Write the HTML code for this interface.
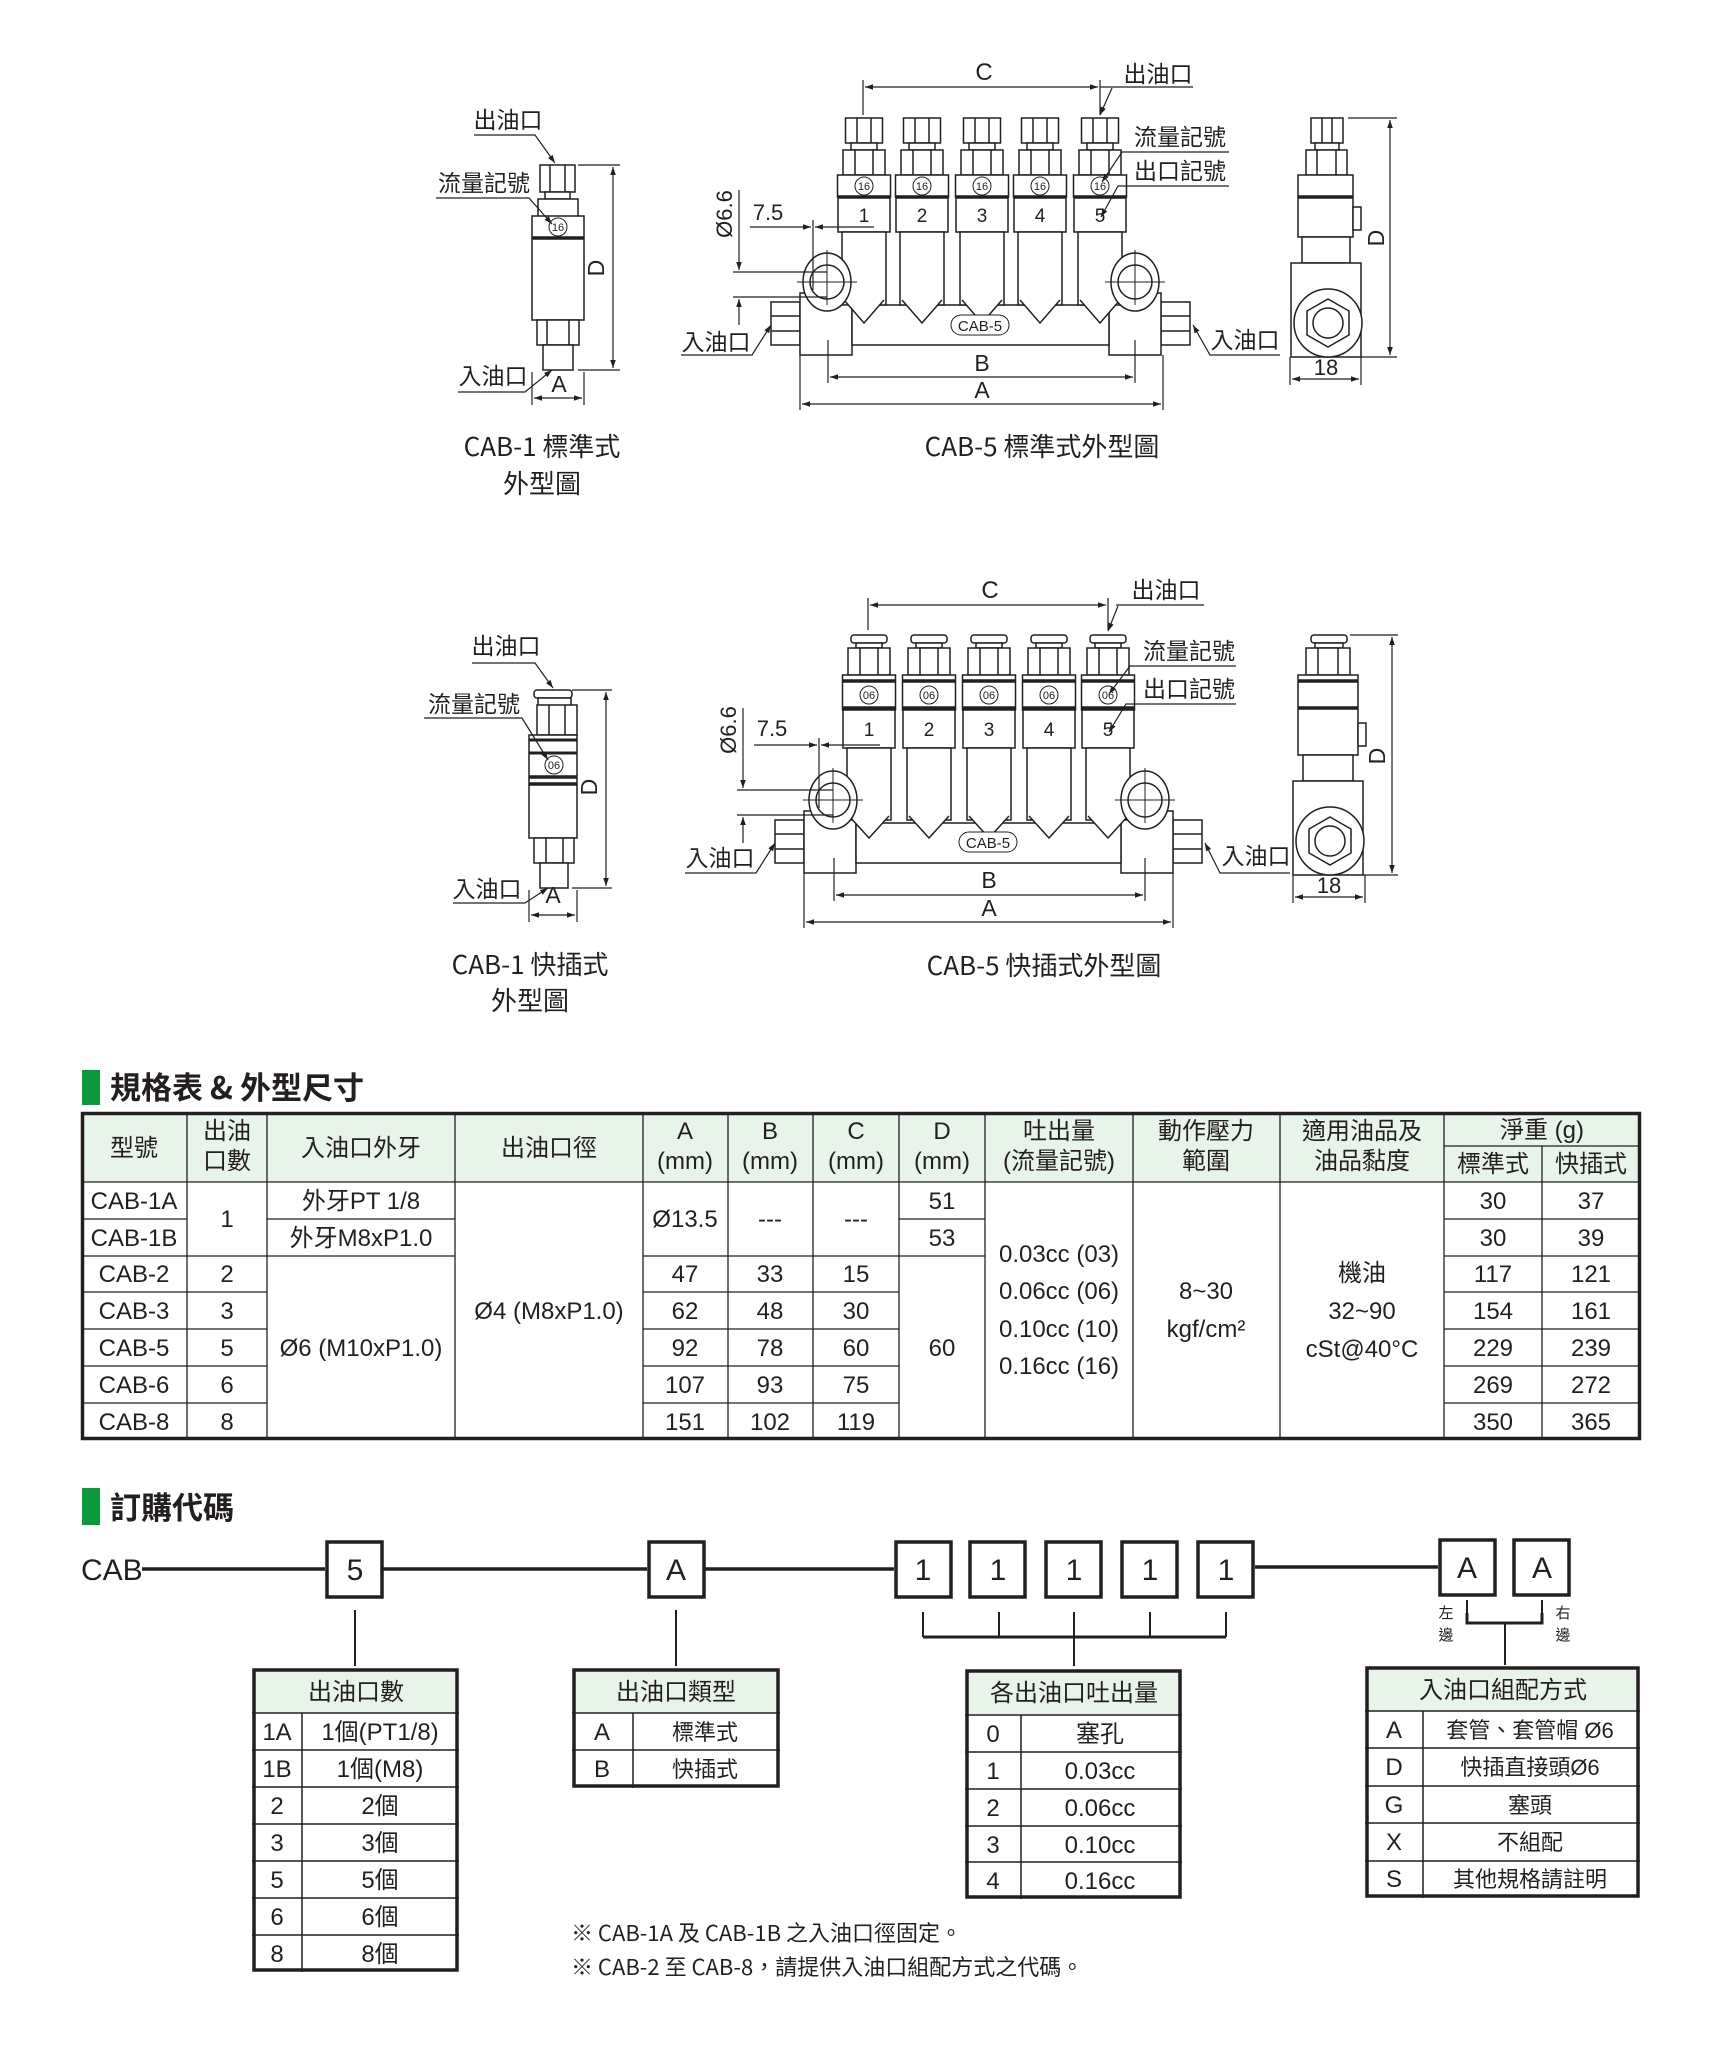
<!DOCTYPE html>
<html><head><meta charset="utf-8"><style>
html,body{margin:0;padding:0;background:#fff;}
svg{display:block;}
text{font-family:"Liberation Sans","Noto Sans CJK TC",sans-serif;fill:#231f20;}
.t{font-family:"Noto Sans CJK TC","Liberation Sans",sans-serif;}
</style></head><body>
<svg width="1715" height="2050" viewBox="0 0 1715 2050" xmlns="http://www.w3.org/2000/svg">
<defs>
<marker id="ar" viewBox="0 0 10 10" refX="10" refY="5" markerWidth="10" markerHeight="8" orient="auto-start-reverse" markerUnits="userSpaceOnUse"><path d="M0,1.5 L10,5 L0,8.5z" fill="#231f20"/></marker>
<g id="outS" fill="#fff" stroke="#231f20" stroke-width="1.5">
<rect x="-18.5" y="118" width="37" height="25"/><line x1="-7" y1="118" x2="-7" y2="143"/><line x1="7" y1="118" x2="7" y2="143"/>
<rect x="-13" y="143" width="26" height="7"/>
<rect x="-21" y="150" width="42" height="25"/><line x1="-9" y1="150" x2="-9" y2="175"/><line x1="9" y1="150" x2="9" y2="175"/>
<rect x="-26.5" y="175" width="53" height="22"/><line x1="-26.5" y1="197" x2="26.5" y2="197" stroke-width="3.5"/>
<rect x="-26" y="198" width="52" height="34"/>
<rect x="-22" y="232" width="44" height="73"/>
<path d="M-20,300 L0,323 L20,300"/>
</g>
<g id="outQ" fill="#fff" stroke="#231f20" stroke-width="1.5">
<rect x="-18" y="117" width="36" height="8" rx="3"/>
<rect x="-13" y="125" width="26" height="5"/>
<rect x="-21" y="130" width="42" height="27"/><line x1="-9" y1="130" x2="-9" y2="157"/><line x1="9" y1="130" x2="9" y2="157"/>
<rect x="-26.5" y="157" width="53" height="35"/><line x1="-26.5" y1="163" x2="26.5" y2="163" stroke-width="3.5"/><line x1="-26.5" y1="190" x2="26.5" y2="190" stroke-width="3.5"/>
<rect x="-26" y="192" width="52" height="38"/>
<rect x="-22" y="230" width="44" height="72"/>
<path d="M-20,298 L0,320 L20,298"/>
</g>
</defs>
<rect width="1715" height="2050" fill="#fff"/>

<!-- ============ SET 1 : standard ============ -->
<g stroke="#231f20" stroke-width="1.5" fill="#fff">
<!-- CAB-1 -->
<rect x="540" y="165" width="35" height="27"/><line x1="550" y1="165" x2="550" y2="192"/><line x1="565" y1="165" x2="565" y2="192"/>
<rect x="545" y="192" width="25" height="7"/>
<rect x="538" y="199" width="40" height="20"/>
<rect x="532" y="216" width="52" height="104"/><line x1="532" y1="238" x2="584" y2="238" stroke-width="3.5"/>
<rect x="537" y="320" width="42" height="25"/><line x1="547" y1="320" x2="547" y2="345"/><line x1="569" y1="320" x2="569" y2="345"/>
<rect x="543" y="345" width="30" height="25"/>
</g>
<circle cx="558" cy="227" r="9" fill="none" stroke="#231f20" stroke-width="1"/><text x="558" y="231" font-size="11" text-anchor="middle">16</text>
<g stroke="#231f20" stroke-width="1.2" fill="none">
<line x1="578" y1="165" x2="620" y2="165"/><line x1="578" y1="370" x2="620" y2="370"/>
<line x1="613" y1="167" x2="613" y2="368" marker-start="url(#ar)" marker-end="url(#ar)"/>
<line x1="532" y1="372" x2="532" y2="405"/><line x1="584" y1="372" x2="584" y2="405"/>
<line x1="534" y1="398" x2="582" y2="398" marker-start="url(#ar)" marker-end="url(#ar)"/>
<polyline points="474,135 535,135 555,163" marker-end="url(#ar)"/>
<polyline points="436,198 529,198 552,224" marker-end="url(#ar)"/>
<polyline points="458,392 525,392 552,370" marker-end="url(#ar)"/>
</g>
<text class="t" x="508" y="128" font-size="23" text-anchor="middle">出油口</text>
<text class="t" x="484" y="191" font-size="23" text-anchor="middle">流量記號</text>
<text class="t" x="493" y="384" font-size="23" text-anchor="middle">入油口</text>
<text x="559" y="392" font-size="23" text-anchor="middle">A</text>
<text x="0" y="0" font-size="23" text-anchor="middle" transform="translate(604,268) rotate(-90)">D</text>
<text class="t" x="542" y="456" font-size="26" text-anchor="middle">CAB-1 標準式</text>
<text class="t" x="542" y="493" font-size="26" text-anchor="middle">外型圖</text>

<!-- CAB-5 standard -->
<g stroke="#231f20" stroke-width="1.5" fill="#fff">
<rect x="771" y="302" width="29" height="43"/><line x1="771" y1="316" x2="800" y2="316"/><line x1="771" y1="331" x2="800" y2="331"/>
<rect x="1161" y="302" width="29" height="43"/><line x1="1161" y1="316" x2="1190" y2="316"/><line x1="1161" y1="331" x2="1190" y2="331"/>
<rect x="800" y="293" width="52" height="62"/>
<rect x="1109" y="293" width="52" height="62"/>
<rect x="852" y="305" width="257" height="40"/>
</g>
<use href="#outS" x="864"/><use href="#outS" x="922"/><use href="#outS" x="982"/><use href="#outS" x="1040"/><use href="#outS" x="1100"/>
<g stroke="#231f20" stroke-width="1.5" fill="#fff">
<ellipse cx="827" cy="282" rx="24" ry="29"/><circle cx="827" cy="282" r="17"/>
<ellipse cx="1135" cy="282" rx="24" ry="29"/><circle cx="1135" cy="282" r="17"/>
</g>
<g stroke="#231f20" stroke-width="1" fill="none">
<line x1="797" y1="282" x2="857" y2="282"/><line x1="827" y1="250" x2="827" y2="305"/>
<line x1="1105" y1="282" x2="1165" y2="282"/><line x1="1135" y1="250" x2="1135" y2="305"/>
<rect x="951" y="315" width="58" height="20" rx="10" fill="#fff"/>
</g>
<text x="980" y="331" font-size="15" text-anchor="middle">CAB-5</text>
<g font-size="11" text-anchor="middle">
<circle cx="864" cy="186" r="9" fill="none" stroke="#231f20"/><text x="864" y="190">16</text>
<circle cx="922" cy="186" r="9" fill="none" stroke="#231f20"/><text x="922" y="190">16</text>
<circle cx="982" cy="186" r="9" fill="none" stroke="#231f20"/><text x="982" y="190">16</text>
<circle cx="1040" cy="186" r="9" fill="none" stroke="#231f20"/><text x="1040" y="190">16</text>
<circle cx="1100" cy="186" r="9" fill="none" stroke="#231f20"/><text x="1100" y="190">16</text>
</g>
<g font-size="19" text-anchor="middle"><text x="864" y="222">1</text><text x="922" y="222">2</text><text x="982" y="222">3</text><text x="1040" y="222">4</text><text x="1100" y="222">5</text></g>
<g stroke="#231f20" stroke-width="1.2" fill="none">
<line x1="863" y1="80" x2="863" y2="115"/><line x1="1100" y1="80" x2="1100" y2="115"/>
<line x1="865" y1="87" x2="1098" y2="87" marker-start="url(#ar)" marker-end="url(#ar)"/>
<polyline points="1193,87 1103,87 1100,87"/><line x1="1112" y1="88" x2="1100" y2="115" marker-end="url(#ar)"/>
<polyline points="1229,152 1122,152 1102,182" marker-end="url(#ar)"/>
<polyline points="1229,186 1118,186 1101,217" marker-end="url(#ar)"/>
<line x1="813" y1="220" x2="813" y2="290"/>
<line x1="750" y1="227" x2="811" y2="227" marker-end="url(#ar)"/><line x1="874" y1="227" x2="815" y2="227" marker-end="url(#ar)"/>
<line x1="739" y1="190" x2="739" y2="270" marker-end="url(#ar)"/><line x1="739" y1="325" x2="739" y2="299" marker-end="url(#ar)"/>
<line x1="733" y1="272" x2="827" y2="272"/><line x1="733" y1="297" x2="827" y2="297"/>
<polyline points="681,355 752,355 771,325" marker-end="url(#ar)"/>
<polyline points="1280,355 1210,355 1193,325" marker-end="url(#ar)"/>
<line x1="828" y1="340" x2="828" y2="383"/><line x1="1135" y1="340" x2="1135" y2="383"/>
<line x1="830" y1="377" x2="1133" y2="377" marker-start="url(#ar)" marker-end="url(#ar)"/>
<line x1="800" y1="355" x2="800" y2="410"/><line x1="1163" y1="355" x2="1163" y2="410"/>
<line x1="802" y1="404" x2="1161" y2="404" marker-start="url(#ar)" marker-end="url(#ar)"/>
</g>
<text x="984" y="80" font-size="24" text-anchor="middle">C</text>
<text class="t" x="1158" y="82" font-size="23" text-anchor="middle">出油口</text>
<text class="t" x="1180" y="145" font-size="23" text-anchor="middle">流量記號</text>
<text class="t" x="1180" y="179" font-size="23" text-anchor="middle">出口記號</text>
<text x="768" y="220" font-size="22" text-anchor="middle">7.5</text>
<text x="0" y="0" font-size="22" text-anchor="middle" transform="translate(732,214) rotate(-90)">Ø6.6</text>
<text class="t" x="716" y="350" font-size="23" text-anchor="middle">入油口</text>
<text class="t" x="1245" y="348" font-size="23" text-anchor="middle">入油口</text>
<text x="982" y="371" font-size="23" text-anchor="middle">B</text>
<text x="982" y="398" font-size="23" text-anchor="middle">A</text>
<text class="t" x="1042" y="456" font-size="26" text-anchor="middle">CAB-5 標準式外型圖</text>

<!-- side view 1 -->
<g stroke="#231f20" stroke-width="1.5" fill="#fff">
<rect x="1311" y="118" width="32" height="25"/><line x1="1322" y1="118" x2="1322" y2="143"/><line x1="1332" y1="118" x2="1332" y2="143"/>
<rect x="1315" y="143" width="24" height="7"/>
<rect x="1306" y="150" width="41" height="25"/><line x1="1317" y1="150" x2="1317" y2="175"/><line x1="1336" y1="150" x2="1336" y2="175"/>
<rect x="1298" y="175" width="55" height="62"/><line x1="1298" y1="197" x2="1353" y2="197" stroke-width="3.5"/>
<rect x="1353" y="207" width="8" height="23"/>
<rect x="1302" y="237" width="48" height="26"/>
<rect x="1291" y="263" width="70" height="94"/>
<circle cx="1328" cy="323" r="34"/><path d="M1328,299 L1349,311 L1349,335 L1328,347 L1307,335 L1307,311z"/><circle cx="1328" cy="323" r="15"/>
</g>
<g stroke="#231f20" stroke-width="1.2" fill="none">
<line x1="1348" y1="118" x2="1397" y2="118"/><line x1="1361" y1="357" x2="1397" y2="357"/>
<line x1="1390" y1="120" x2="1390" y2="355" marker-start="url(#ar)" marker-end="url(#ar)"/>
<line x1="1290" y1="357" x2="1290" y2="385"/><line x1="1361" y1="357" x2="1361" y2="385"/>
<line x1="1292" y1="379" x2="1359" y2="379" marker-start="url(#ar)" marker-end="url(#ar)"/>
</g>
<text x="0" y="0" font-size="23" text-anchor="middle" transform="translate(1384,238) rotate(-90)">D</text>
<text x="1326" y="375" font-size="22" text-anchor="middle">18</text>

<!-- ============ SET 2 : quick ============ -->
<g stroke="#231f20" stroke-width="1.5" fill="#fff">
<rect x="534" y="690" width="38" height="8" rx="3"/>
<rect x="538" y="698" width="33" height="8"/>
<rect x="537" y="705" width="40" height="30"/><line x1="549" y1="705" x2="549" y2="735"/><line x1="565" y1="705" x2="565" y2="735"/>
<rect x="529" y="735" width="48" height="103"/><line x1="529" y1="740" x2="577" y2="740" stroke-width="3"/><line x1="529" y1="753" x2="577" y2="753" stroke-width="3"/><line x1="529" y1="777" x2="577" y2="777" stroke-width="3.5"/><line x1="529" y1="784" x2="577" y2="784" stroke-width="3.5"/>
<rect x="534" y="838" width="40" height="25"/><line x1="546" y1="838" x2="546" y2="863"/><line x1="563" y1="838" x2="563" y2="863"/>
<rect x="540" y="863" width="28" height="25"/>
</g>
<circle cx="554" cy="765" r="9" fill="none" stroke="#231f20" stroke-width="1"/><text x="554" y="769" font-size="11" text-anchor="middle">06</text>
<g stroke="#231f20" stroke-width="1.2" fill="none">
<line x1="572" y1="690" x2="612" y2="690"/><line x1="572" y1="888" x2="612" y2="888"/>
<line x1="606" y1="692" x2="606" y2="886" marker-start="url(#ar)" marker-end="url(#ar)"/>
<line x1="529" y1="890" x2="529" y2="922"/><line x1="577" y1="890" x2="577" y2="922"/>
<line x1="531" y1="915" x2="575" y2="915" marker-start="url(#ar)" marker-end="url(#ar)"/>
<polyline points="472,663 535,663 553,688" marker-end="url(#ar)"/>
<polyline points="424,718 522,718 548,760" marker-end="url(#ar)"/>
<polyline points="453,903 525,903 548,888" marker-end="url(#ar)"/>
</g>
<text class="t" x="506" y="654" font-size="23" text-anchor="middle">出油口</text>
<text class="t" x="474" y="712" font-size="23" text-anchor="middle">流量記號</text>
<text class="t" x="487" y="897" font-size="23" text-anchor="middle">入油口</text>
<text x="553" y="903" font-size="23" text-anchor="middle">A</text>
<text x="0" y="0" font-size="23" text-anchor="middle" transform="translate(597,787) rotate(-90)">D</text>
<text class="t" x="530" y="974" font-size="26" text-anchor="middle">CAB-1 快插式</text>
<text class="t" x="530" y="1010" font-size="26" text-anchor="middle">外型圖</text>

<g transform="translate(4,518)">
<g stroke="#231f20" stroke-width="1.5" fill="#fff">
<rect x="771" y="302" width="29" height="43"/><line x1="771" y1="316" x2="800" y2="316"/><line x1="771" y1="331" x2="800" y2="331"/>
<rect x="1169" y="302" width="29" height="43"/><line x1="1169" y1="316" x2="1198" y2="316"/><line x1="1169" y1="331" x2="1198" y2="331"/>
<rect x="800" y="293" width="52" height="62"/>
<rect x="1117" y="293" width="52" height="62"/>
<rect x="852" y="305" width="265" height="40"/>
</g>
<use href="#outQ" x="865"/><use href="#outQ" x="925"/><use href="#outQ" x="985"/><use href="#outQ" x="1045"/><use href="#outQ" x="1104"/>
<g stroke="#231f20" stroke-width="1.5" fill="#fff">
<ellipse cx="829" cy="282" rx="24" ry="29"/><circle cx="829" cy="282" r="17"/>
<ellipse cx="1141" cy="282" rx="24" ry="29"/><circle cx="1141" cy="282" r="17"/>
</g>
<g stroke="#231f20" stroke-width="1" fill="none">
<line x1="799" y1="282" x2="859" y2="282"/><line x1="829" y1="250" x2="829" y2="305"/>
<line x1="1111" y1="282" x2="1171" y2="282"/><line x1="1141" y1="250" x2="1141" y2="305"/>
<rect x="955" y="314" width="58" height="20" rx="10" fill="#fff"/>
</g>
<text x="984" y="330" font-size="15" text-anchor="middle">CAB-5</text>
<g font-size="11" text-anchor="middle">
<circle cx="865" cy="177" r="9" fill="none" stroke="#231f20"/><text x="865" y="181">06</text>
<circle cx="925" cy="177" r="9" fill="none" stroke="#231f20"/><text x="925" y="181">06</text>
<circle cx="985" cy="177" r="9" fill="none" stroke="#231f20"/><text x="985" y="181">06</text>
<circle cx="1045" cy="177" r="9" fill="none" stroke="#231f20"/><text x="1045" y="181">06</text>
<circle cx="1104" cy="177" r="9" fill="none" stroke="#231f20"/><text x="1104" y="181">06</text>
</g>
<g font-size="19" text-anchor="middle"><text x="865" y="218">1</text><text x="925" y="218">2</text><text x="985" y="218">3</text><text x="1045" y="218">4</text><text x="1104" y="218">5</text></g>
<g stroke="#231f20" stroke-width="1.2" fill="none">
<line x1="864" y1="80" x2="864" y2="112"/><line x1="1104" y1="80" x2="1104" y2="112"/>
<line x1="866" y1="87" x2="1102" y2="87" marker-start="url(#ar)" marker-end="url(#ar)"/>
<line x1="1200" y1="87" x2="1112" y2="87"/><line x1="1114" y1="88" x2="1104" y2="113" marker-end="url(#ar)"/>
<polyline points="1232,148 1126,148 1105,176" marker-end="url(#ar)"/>
<polyline points="1232,186 1122,186 1105,214" marker-end="url(#ar)"/>
<line x1="815" y1="220" x2="815" y2="290"/>
<line x1="750" y1="227" x2="813" y2="227" marker-end="url(#ar)"/><line x1="876" y1="227" x2="817" y2="227" marker-end="url(#ar)"/>
<line x1="739" y1="190" x2="739" y2="270" marker-end="url(#ar)"/><line x1="739" y1="325" x2="739" y2="299" marker-end="url(#ar)"/>
<line x1="733" y1="272" x2="829" y2="272"/><line x1="733" y1="297" x2="829" y2="297"/>
<polyline points="681,355 752,355 771,325" marker-end="url(#ar)"/>
<polyline points="1286,355 1216,355 1201,325" marker-end="url(#ar)"/>
<line x1="830" y1="340" x2="830" y2="383"/><line x1="1141" y1="340" x2="1141" y2="383"/>
<line x1="832" y1="377" x2="1139" y2="377" marker-start="url(#ar)" marker-end="url(#ar)"/>
<line x1="800" y1="355" x2="800" y2="410"/><line x1="1169" y1="355" x2="1169" y2="410"/>
<line x1="802" y1="404" x2="1167" y2="404" marker-start="url(#ar)" marker-end="url(#ar)"/>
</g>
<text x="986" y="80" font-size="24" text-anchor="middle">C</text>
<text class="t" x="1162" y="80" font-size="23" text-anchor="middle">出油口</text>
<text class="t" x="1185" y="141" font-size="23" text-anchor="middle">流量記號</text>
<text class="t" x="1185" y="179" font-size="23" text-anchor="middle">出口記號</text>
<text x="768" y="218" font-size="22" text-anchor="middle">7.5</text>
<text x="0" y="0" font-size="22" text-anchor="middle" transform="translate(732,212) rotate(-90)">Ø6.6</text>
<text class="t" x="716" y="348" font-size="23" text-anchor="middle">入油口</text>
<text class="t" x="1252" y="346" font-size="23" text-anchor="middle">入油口</text>
<text x="985" y="370" font-size="23" text-anchor="middle">B</text>
<text x="985" y="398" font-size="23" text-anchor="middle">A</text>
<text class="t" x="1040" y="457" font-size="26" text-anchor="middle">CAB-5 快插式外型圖</text>

<g stroke="#231f20" stroke-width="1.5" fill="#fff">
<rect x="1307" y="117" width="36" height="8" rx="3"/>
<rect x="1311" y="125" width="28" height="5"/>
<rect x="1302" y="130" width="44" height="27"/><line x1="1314" y1="130" x2="1314" y2="157"/><line x1="1334" y1="130" x2="1334" y2="157"/>
<rect x="1294" y="157" width="60" height="80"/><line x1="1294" y1="163" x2="1354" y2="163" stroke-width="3.5"/><line x1="1294" y1="190" x2="1354" y2="190" stroke-width="3.5"/>
<rect x="1354" y="205" width="8" height="23"/>
<rect x="1299" y="237" width="50" height="26"/>
<rect x="1289" y="263" width="70" height="94"/>
<circle cx="1326" cy="323" r="34"/><path d="M1326,299 L1347,311 L1347,335 L1326,347 L1305,335 L1305,311z"/><circle cx="1326" cy="323" r="15"/>
</g>
<g stroke="#231f20" stroke-width="1.2" fill="none">
<line x1="1346" y1="117" x2="1394" y2="117"/><line x1="1359" y1="357" x2="1394" y2="357"/>
<line x1="1388" y1="119" x2="1388" y2="355" marker-start="url(#ar)" marker-end="url(#ar)"/>
<line x1="1289" y1="357" x2="1289" y2="385"/><line x1="1361" y1="357" x2="1361" y2="385"/>
<line x1="1291" y1="379" x2="1359" y2="379" marker-start="url(#ar)" marker-end="url(#ar)"/>
</g>
<text x="0" y="0" font-size="23" text-anchor="middle" transform="translate(1381,238) rotate(-90)">D</text>
<text x="1325" y="375" font-size="22" text-anchor="middle">18</text>
</g>

<!-- ============ SPEC TABLE ============ -->
<rect x="82" y="1070" width="18" height="35" fill="#0a9a3c"/>
<text class="t" x="110" y="1099" font-size="31" font-weight="bold">規格表 &amp; 外型尺寸</text>

<rect x="81" y="1112" width="1560" height="70" fill="#e8f3ea"/>
<g stroke="#231f20" stroke-width="1.3">
<line x1="187" y1="1112" x2="187" y2="1440"/><line x1="267" y1="1112" x2="267" y2="1440"/>
<line x1="455" y1="1112" x2="455" y2="1440"/><line x1="643" y1="1112" x2="643" y2="1440"/>
<line x1="728" y1="1112" x2="728" y2="1440"/><line x1="813" y1="1112" x2="813" y2="1440"/>
<line x1="899" y1="1112" x2="899" y2="1440"/><line x1="985" y1="1112" x2="985" y2="1440"/>
<line x1="1133" y1="1112" x2="1133" y2="1440"/><line x1="1280" y1="1112" x2="1280" y2="1440"/>
<line x1="1444" y1="1112" x2="1444" y2="1440"/><line x1="1542" y1="1146" x2="1542" y2="1440"/>
<line x1="1444" y1="1146" x2="1641" y2="1146"/>
<line x1="81" y1="1182" x2="1641" y2="1182"/>
<line x1="81" y1="1219" x2="187" y2="1219"/><line x1="267" y1="1219" x2="455" y2="1219"/><line x1="899" y1="1219" x2="985" y2="1219"/><line x1="1444" y1="1219" x2="1641" y2="1219"/>
<line x1="81" y1="1256" x2="455" y2="1256"/><line x1="643" y1="1256" x2="985" y2="1256"/><line x1="1444" y1="1256" x2="1641" y2="1256"/>
<line x1="81" y1="1292" x2="267" y2="1292"/><line x1="643" y1="1292" x2="899" y2="1292"/><line x1="1444" y1="1292" x2="1641" y2="1292"/>
<line x1="81" y1="1329" x2="267" y2="1329"/><line x1="643" y1="1329" x2="899" y2="1329"/><line x1="1444" y1="1329" x2="1641" y2="1329"/>
<line x1="81" y1="1366" x2="267" y2="1366"/><line x1="643" y1="1366" x2="899" y2="1366"/><line x1="1444" y1="1366" x2="1641" y2="1366"/>
<line x1="81" y1="1403" x2="267" y2="1403"/><line x1="643" y1="1403" x2="899" y2="1403"/><line x1="1444" y1="1403" x2="1641" y2="1403"/>
</g>
<rect x="82.5" y="1113.5" width="1557" height="325" fill="none" stroke="#231f20" stroke-width="3.5"/>
<g class="t" font-size="24" text-anchor="middle">
<text x="134" y="1156">型號</text>
<text x="227" y="1139">出油</text><text x="227" y="1169">口數</text>
<text x="361" y="1156">入油口外牙</text>
<text x="549" y="1156">出油口徑</text>
<text x="685" y="1139">A</text><text x="685" y="1169">(mm)</text>
<text x="770" y="1139">B</text><text x="770" y="1169">(mm)</text>
<text x="856" y="1139">C</text><text x="856" y="1169">(mm)</text>
<text x="942" y="1139">D</text><text x="942" y="1169">(mm)</text>
<text x="1059" y="1139">吐出量</text><text x="1059" y="1169">(流量記號)</text>
<text x="1206" y="1139">動作壓力</text><text x="1206" y="1169">範圍</text>
<text x="1362" y="1139">適用油品及</text><text x="1362" y="1169">油品黏度</text>
<text x="1542" y="1138">淨重 (g)</text>
<text x="1493" y="1172">標準式</text><text x="1591" y="1172">快插式</text>
</g>
<g class="t" font-size="24" text-anchor="middle">
<text x="134" y="1209">CAB-1A</text><text x="134" y="1246">CAB-1B</text><text x="134" y="1282">CAB-2</text><text x="134" y="1319">CAB-3</text><text x="134" y="1356">CAB-5</text><text x="134" y="1393">CAB-6</text><text x="134" y="1430">CAB-8</text>
<text x="227" y="1227">1</text><text x="227" y="1282">2</text><text x="227" y="1319">3</text><text x="227" y="1356">5</text><text x="227" y="1393">6</text><text x="227" y="1430">8</text>
<text x="361" y="1209">外牙PT 1/8</text><text x="361" y="1246">外牙M8xP1.0</text><text x="361" y="1356">Ø6 (M10xP1.0)</text>
<text x="549" y="1319">Ø4 (M8xP1.0)</text>
<text x="685" y="1227">Ø13.5</text><text x="770" y="1227">---</text><text x="856" y="1227">---</text>
<text x="685" y="1282">47</text><text x="685" y="1319">62</text><text x="685" y="1356">92</text><text x="685" y="1393">107</text><text x="685" y="1430">151</text>
<text x="770" y="1282">33</text><text x="770" y="1319">48</text><text x="770" y="1356">78</text><text x="770" y="1393">93</text><text x="770" y="1430">102</text>
<text x="856" y="1282">15</text><text x="856" y="1319">30</text><text x="856" y="1356">60</text><text x="856" y="1393">75</text><text x="856" y="1430">119</text>
<text x="942" y="1209">51</text><text x="942" y="1246">53</text><text x="942" y="1356">60</text>
<text x="1059" y="1262">0.03cc (03)</text><text x="1059" y="1299">0.06cc (06)</text><text x="1059" y="1337">0.10cc (10)</text><text x="1059" y="1374">0.16cc (16)</text>
<text x="1206" y="1299">8~30</text><text x="1206" y="1337">kgf/cm²</text>
<text x="1362" y="1281">機油</text><text x="1362" y="1319">32~90</text><text x="1362" y="1357">cSt@40°C</text>
<text x="1493" y="1209">30</text><text x="1493" y="1246">30</text><text x="1493" y="1282">117</text><text x="1493" y="1319">154</text><text x="1493" y="1356">229</text><text x="1493" y="1393">269</text><text x="1493" y="1430">350</text>
<text x="1591" y="1209">37</text><text x="1591" y="1246">39</text><text x="1591" y="1282">121</text><text x="1591" y="1319">161</text><text x="1591" y="1356">239</text><text x="1591" y="1393">272</text><text x="1591" y="1430">365</text>
</g>

<!-- ============ ORDER CODE ============ -->
<rect x="82" y="1488" width="18" height="37" fill="#0a9a3c"/>
<text class="t" x="110" y="1519" font-size="31" font-weight="bold">訂購代碼</text>
<text x="81" y="1580" font-size="30">CAB</text>
<g stroke="#231f20" stroke-width="3.5" fill="none">
<line x1="142" y1="1569" x2="325" y2="1569"/><line x1="383" y1="1569" x2="647" y2="1569"/><line x1="705" y1="1569" x2="894" y2="1569"/><line x1="1255" y1="1567" x2="1438" y2="1567"/>
<rect x="327" y="1542" width="55" height="55"/><rect x="649" y="1542" width="55" height="55"/>
<rect x="896" y="1542" width="55" height="55"/><rect x="970" y="1542" width="55" height="55"/><rect x="1046" y="1542" width="55" height="55"/><rect x="1122" y="1542" width="55" height="55"/><rect x="1198" y="1542" width="55" height="55"/>
<rect x="1440" y="1540" width="55" height="55"/><rect x="1514" y="1540" width="55" height="55"/>
<polyline points="1467,1613 1467,1623 1542,1623 1542,1613" stroke-width="3"/>
<line x1="923" y1="1637" x2="1226" y2="1637" stroke-width="3"/>
</g>
<g stroke="#231f20" stroke-width="2" fill="none">
<line x1="355" y1="1610" x2="355" y2="1666"/><line x1="676" y1="1610" x2="676" y2="1666"/>
<line x1="923" y1="1612" x2="923" y2="1637"/><line x1="999" y1="1612" x2="999" y2="1637"/><line x1="1074" y1="1612" x2="1074" y2="1666"/><line x1="1150" y1="1612" x2="1150" y2="1637"/><line x1="1226" y1="1612" x2="1226" y2="1637"/>
<line x1="1467" y1="1600" x2="1467" y2="1623"/><line x1="1542" y1="1600" x2="1542" y2="1623"/>
<line x1="1505" y1="1623" x2="1505" y2="1665"/>
</g>
<g font-size="30" text-anchor="middle">
<text x="355" y="1580">5</text><text x="676" y="1580">A</text>
<text x="923" y="1580">1</text><text x="998" y="1580">1</text><text x="1074" y="1580">1</text><text x="1150" y="1580">1</text><text x="1226" y="1580">1</text>
<text x="1467" y="1578">A</text><text x="1542" y="1578">A</text>
</g>
<g class="t" font-size="15" text-anchor="middle"><text x="1446" y="1618">左</text><text x="1446" y="1640">邊</text><text x="1563" y="1618">右</text><text x="1563" y="1640">邊</text></g>

<!-- sub tables -->
<g stroke="#231f20" fill="none">
<rect x="254" y="1669" width="203" height="44" fill="#e8f3ea" stroke="none"/>
<rect x="574" y="1669" width="204" height="44" fill="#e8f3ea" stroke="none"/>
<rect x="967" y="1670" width="213" height="44" fill="#e8f3ea" stroke="none"/>
<rect x="1367" y="1667" width="271" height="44" fill="#e8f3ea" stroke="none"/>
<g stroke-width="1.5">
<line x1="252" y1="1713" x2="459" y2="1713"/><line x1="302" y1="1713" x2="302" y2="1972"/>
<line x1="252" y1="1750" x2="459" y2="1750"/><line x1="252" y1="1787" x2="459" y2="1787"/><line x1="252" y1="1824" x2="459" y2="1824"/><line x1="252" y1="1861" x2="459" y2="1861"/><line x1="252" y1="1898" x2="459" y2="1898"/><line x1="252" y1="1935" x2="459" y2="1935"/>
<line x1="572" y1="1713" x2="780" y2="1713"/><line x1="633" y1="1713" x2="633" y2="1788"/><line x1="572" y1="1750" x2="780" y2="1750"/>
<line x1="965" y1="1715" x2="1182" y2="1715"/><line x1="1021" y1="1715" x2="1021" y2="1899"/>
<line x1="965" y1="1752" x2="1182" y2="1752"/><line x1="965" y1="1789" x2="1182" y2="1789"/><line x1="965" y1="1826" x2="1182" y2="1826"/><line x1="965" y1="1862" x2="1182" y2="1862"/>
<line x1="1365" y1="1711" x2="1640" y2="1711"/><line x1="1423" y1="1711" x2="1423" y2="1898"/>
<line x1="1365" y1="1748" x2="1640" y2="1748"/><line x1="1365" y1="1786" x2="1640" y2="1786"/><line x1="1365" y1="1823" x2="1640" y2="1823"/><line x1="1365" y1="1861" x2="1640" y2="1861"/>
</g>
<g stroke-width="3.5">
<rect x="254" y="1670" width="203" height="300"/>
<rect x="574" y="1670" width="204" height="116"/>
<rect x="967" y="1671" width="213" height="226"/>
<rect x="1367" y="1668" width="271" height="228"/>
</g>
</g>
<g class="t" font-size="24" text-anchor="middle">
<text x="356" y="1700">出油口數</text>
<text x="277" y="1740">1A</text><text x="380" y="1740">1個(PT1/8)</text>
<text x="277" y="1777">1B</text><text x="380" y="1777">1個(M8)</text>
<text x="277" y="1814">2</text><text x="380" y="1814">2個</text>
<text x="277" y="1851">3</text><text x="380" y="1851">3個</text>
<text x="277" y="1888">5</text><text x="380" y="1888">5個</text>
<text x="277" y="1925">6</text><text x="380" y="1925">6個</text>
<text x="277" y="1962">8</text><text x="380" y="1962">8個</text>
<text x="676" y="1700">出油口類型</text>
<text x="602" y="1740">A</text><text x="705" y="1740" font-size="22">標準式</text>
<text x="602" y="1777">B</text><text x="705" y="1777" font-size="22">快插式</text>
<text x="1074" y="1701">各出油口吐出量</text>
<text x="993" y="1742">0</text><text x="1100" y="1742">塞孔</text>
<text x="993" y="1779">1</text><text x="1100" y="1779">0.03cc</text>
<text x="993" y="1816">2</text><text x="1100" y="1816">0.06cc</text>
<text x="993" y="1853">3</text><text x="1100" y="1853">0.10cc</text>
<text x="993" y="1889">4</text><text x="1100" y="1889">0.16cc</text>
<text x="1503" y="1698">入油口組配方式</text>
<text x="1394" y="1738">A</text><text x="1530" y="1738" font-size="22">套管、套管帽 Ø6</text>
<text x="1394" y="1775">D</text><text x="1530" y="1775" font-size="22">快插直接頭Ø6</text>
<text x="1394" y="1813">G</text><text x="1530" y="1813" font-size="22">塞頭</text>
<text x="1394" y="1850">X</text><text x="1530" y="1850" font-size="22">不組配</text>
<text x="1394" y="1887">S</text><text x="1530" y="1887" font-size="22">其他規格請註明</text>
</g>
<text class="t" x="571" y="1941" font-size="22">※ CAB-1A 及 CAB-1B 之入油口徑固定。</text>
<text class="t" x="571" y="1975" font-size="22">※ CAB-2 至 CAB-8，請提供入油口組配方式之代碼。</text>
</svg>
</body></html>
